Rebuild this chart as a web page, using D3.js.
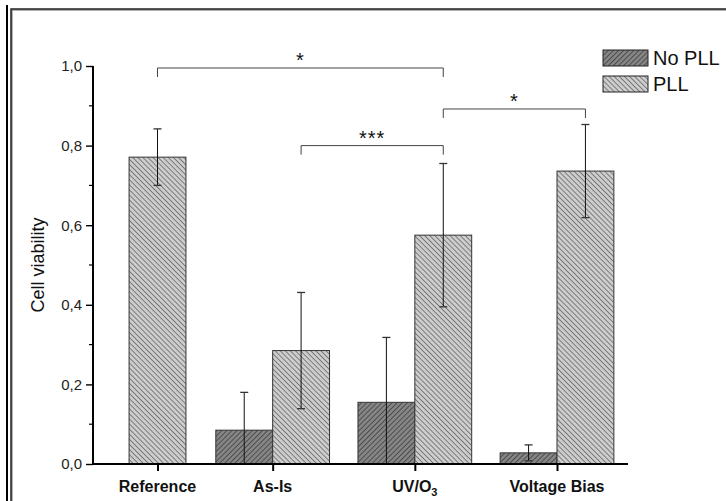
<!DOCTYPE html>
<html>
<head>
<meta charset="utf-8">
<script src="https://cdn.jsdelivr.net/npm/d3@7"></script>
<style>
  html, body { margin: 0; padding: 0; background: #fff; }
  svg { display: block; font-family: "Liberation Sans", Arial, sans-serif; }
</style>
</head>
<body>
<svg id="chart" width="726" height="501"></svg>
<script>
// data
const categories = ["Reference", "As-Is", "UV/O3", "Voltage Bias"];
const catPos = [1.19, 2, 3, 4];            // x position of each group (Reference sits closer)
const series = ["No PLL", "PLL"];
const noPll = [null, 0.085, 0.155, 0.028];
const noPllErr = [null, 0.095, 0.163, 0.02];
const pll = [0.771, 0.285, 0.575, 0.736];
const pllErr = [0.071, 0.146, 0.18, 0.117];
const yTicks = [0, 0.2, 0.4, 0.6, 0.8, 1.0];
const yMinor = [0.1, 0.3, 0.5, 0.7, 0.9];
// significance brackets: from group, to group (PLL bars), height, label
const brackets = [
  { from: 0, to: 2, y: 0.995, label: "*" },
  { from: 1, to: 2, y: 0.80, label: "***" },
  { from: 2, to: 3, y: 0.892, label: "*" },
];

const svg = d3.select("#chart");
const margin = { left: 93, top: 66, right: 97, bottom: 37 };
const W = 726, H = 501;

// frame
svg.append("line").attr("x1", 7).attr("x2", 7).attr("y1", 5).attr("y2", H)
  .attr("stroke", "#000").attr("stroke-width", 2);
svg.append("rect").attr("x", 12).attr("y", 10).attr("width", W + 20).attr("height", H + 20)
  .attr("fill", "none").attr("stroke", "#999").attr("stroke-width", 1.5);
svg.append("rect").attr("x", 11).attr("y", 9).attr("width", W + 20).attr("height", H + 20)
  .attr("fill", "none").attr("stroke", "#222").attr("stroke-width", 1.5);

// hatches
const defs = svg.append("defs");
function hatch(id, bg, fg, angle) {
  const s = 3.6;
  const p = defs.append("pattern").attr("id", id)
    .attr("patternUnits", "userSpaceOnUse")
    .attr("width", s).attr("height", s)
    .attr("patternTransform", `rotate(${angle})`);
  p.append("rect").attr("width", s).attr("height", s).attr("fill", bg);
  p.append("line").attr("x1", 0).attr("x2", 0).attr("y1", 0).attr("y2", s)
    .attr("stroke", fg).attr("stroke-width", 1.4);
}
hatch("hNo", "#858585", "#383838", 45);
hatch("hPll", "#cdcdcd", "#595959", -45);

const x = d3.scaleLinear().domain([1, 4]).range([130.5, 557]);
const y = d3.scaleLinear().domain([0, 1]).range([H - margin.bottom, margin.top]);
const bw = x(2) - x(1.6); // bar width

const g = svg.append("g");

// bars
const bars = [];
categories.forEach((c, i) => {
  const cx = x(catPos[i]);
  if (noPll[i] != null) bars.push({ x0: cx - bw, v: noPll[i], e: noPllErr[i], fill: "url(#hNo)" });
  if (i === 0) bars.push({ x0: cx - bw / 2, v: pll[i], e: pllErr[i], fill: "url(#hPll)" });
  else bars.push({ x0: cx, v: pll[i], e: pllErr[i], fill: "url(#hPll)" });
});

g.selectAll("rect.bar").data(bars).enter().append("rect")
  .attr("class", "bar")
  .attr("x", d => d.x0).attr("y", d => y(d.v))
  .attr("width", bw).attr("height", d => y(0) - y(d.v))
  .attr("fill", d => d.fill).attr("stroke", "#333").attr("stroke-width", 1);

// error bars
const eb = g.selectAll("g.err").data(bars).enter().append("g").attr("class", "err")
  .attr("transform", d => `translate(${d.x0 + bw / 2},0)`);
eb.append("line")
  .attr("y1", d => y(d.v + d.e)).attr("y2", d => y(Math.max(0, d.v - d.e)))
  .attr("stroke", "#111").attr("stroke-width", 1);
eb.append("line").attr("x1", -4).attr("x2", 4)
  .attr("y1", d => y(d.v + d.e)).attr("y2", d => y(d.v + d.e))
  .attr("stroke", "#333").attr("stroke-width", 1.3);
eb.filter(d => d.v - d.e > 0).append("line").attr("x1", -4).attr("x2", 4)
  .attr("y1", d => y(d.v - d.e)).attr("y2", d => y(d.v - d.e))
  .attr("stroke", "#333").attr("stroke-width", 1.3);

// y axis
const yAxis = g.append("g").attr("transform", `translate(${margin.left},0)`)
  .call(d3.axisLeft(y).tickValues(yTicks).tickSize(7).tickPadding(4)
    .tickFormat(d => d3.format(".1f")(d).replace(".", ",")));
yAxis.attr("font-size", 15).attr("font-family", "Liberation Sans, Arial, sans-serif");
yAxis.select(".domain").remove();
yAxis.append("line").attr("x1", 0).attr("x2", 0).attr("y1", y(1)).attr("y2", y(0))
  .attr("stroke", "#000").attr("stroke-width", 2);
yAxis.append("g").selectAll("line").data(yMinor).enter().append("line")
  .attr("x1", -4).attr("x2", 0).attr("y1", d => y(d)).attr("y2", d => y(d))
  .attr("stroke", "#000").attr("stroke-width", 1.2);
yAxis.selectAll(".tick line").attr("stroke", "#000").attr("stroke-width", 1.4);
yAxis.selectAll(".tick text").attr("fill", "#222");

// x axis
const xAxis = g.append("g").attr("transform", `translate(0,${y(0)})`)
  .call(d3.axisBottom(x).tickValues(catPos).tickSize(7).tickFormat(""));
xAxis.select(".domain").remove();
xAxis.append("line").attr("x1", margin.left - 1).attr("x2", 628).attr("y1", 0).attr("y2", 0)
  .attr("stroke", "#000").attr("stroke-width", 2);
xAxis.selectAll(".tick line").attr("stroke", "#000").attr("stroke-width", 2);

const xl = g.append("g").selectAll("text").data(categories).enter().append("text")
  .attr("x", (d, i) => x(catPos[i])).attr("y", y(0) + 28)
  .attr("text-anchor", "middle").attr("font-size", 16).attr("font-weight", "bold")
  .attr("fill", "#111");
xl.each(function(d) {
  const t = d3.select(this);
  if (d === "UV/O3") {
    t.append("tspan").text("UV/O");
    t.append("tspan").text("3").attr("font-size", 11).attr("dy", 4);
  } else t.text(d);
});

// y label
svg.append("text").attr("transform", `translate(44,${(y(0) + y(1)) / 2}) rotate(-90)`)
  .attr("text-anchor", "middle").attr("font-size", 18).attr("fill", "#111")
  .text("Cell viability");

// brackets
const pllX = i => (i === 0 ? x(catPos[0]) : x(catPos[i]) + bw / 2);
const br = g.selectAll("g.br").data(brackets).enter().append("g").attr("class", "br");
br.append("path")
  .attr("d", d => `M${pllX(d.from)},${y(d.y) + 9}V${y(d.y)}H${pllX(d.to)}V${y(d.y) + 9}`)
  .attr("fill", "none").attr("stroke", "#444").attr("stroke-width", 1);
br.append("text")
  .attr("x", d => (pllX(d.from) + pllX(d.to)) / 2).attr("y", d => y(d.y) - 1)
  .attr("text-anchor", "middle").attr("font-size", 20).attr("fill", "#111")
  .attr("letter-spacing", 1)
  .text(d => d.label);

// legend
const lg = svg.append("g").attr("transform", "translate(603,50)");
const lr = lg.selectAll("g").data(series).enter().append("g")
  .attr("transform", (d, i) => `translate(0,${i * 26})`);
lr.append("rect").attr("width", 45).attr("height", 16)
  .attr("fill", (d, i) => i === 0 ? "url(#hNo)" : "url(#hPll)")
  .attr("stroke", "#222").attr("stroke-width", 1);
lr.append("text").attr("x", 50).attr("y", 15).attr("font-size", 20).attr("fill", "#111")
  .text(d => d);
</script>
</body>
</html>
